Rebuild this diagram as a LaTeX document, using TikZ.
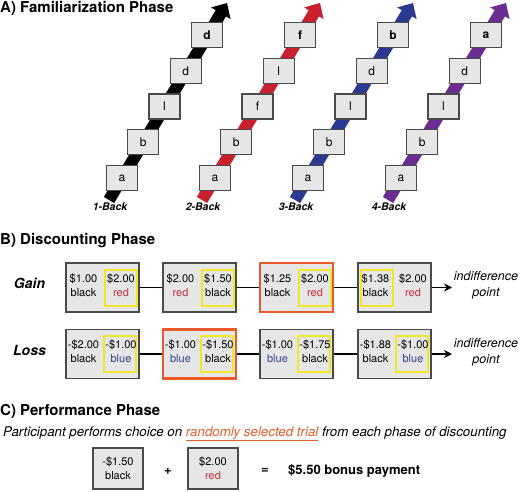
\documentclass[tikz,border=0pt]{standalone}
\usepackage{fontspec}
\setmainfont{TeX Gyre Heros}
\usetikzlibrary{arrows.meta}
\definecolor{boxfill}{HTML}{E6E6E6}
\definecolor{boxline}{HTML}{4A4A4A}
\definecolor{nred}{HTML}{C8202F}
\definecolor{nblue}{HTML}{2B3990}
\definecolor{npurple}{HTML}{6C2D91}
\definecolor{selorange}{HTML}{EA5B2B}
\definecolor{hiyellow}{HTML}{F2E52C}
\definecolor{txtred}{HTML}{C0303A}
\definecolor{txtblue}{HTML}{33408E}
\newcommand\choicebox[8]{%
  \node[choice,#3] (#1) at (#2) {};
  \node[hilite] (#1-y) at ([xshift=#8pt]#1.center) {};
  \node[ctext] (#1-l) at ([xshift=-19pt,yshift=2.5pt]#1.center) {#4\\#5};
  \node[ctext] (#1-r) at ([xshift=18.5pt,yshift=2.5pt]#1.center) {#6\\#7};
}
\begin{document}
\begin{tikzpicture}[x=1pt,y=-1pt,
  title/.style={anchor=base west,inner sep=0pt,font=\fontsize{15}{18}\selectfont\bfseries},
  letterbox/.style={draw=boxline,fill=boxfill,line width=1.2pt,minimum width=31pt,minimum height=25pt,inner sep=0pt,font=\fontsize{12}{14}\selectfont},
  band/.style={line width=12pt,-{Triangle[width=22pt,length=12pt]}},
  backlabel/.style={inner sep=0pt,font=\fontsize{10.5}{12}\selectfont\bfseries\itshape},
  rowlabel/.style={inner sep=0pt,font=\fontsize{14}{16}\selectfont\bfseries\itshape},
  choice/.style={draw=boxline,fill=boxfill,line width=1.2pt,minimum width=73pt,minimum height=49pt,inner sep=0pt},
  selected/.style={draw=selorange,line width=2.5pt},
  hilite/.style={draw=hiyellow,line width=2pt,minimum width=32pt,minimum height=36pt,inner sep=0pt},
  ctext/.style={align=center,inner sep=0pt,font=\fontsize{11}{14}\selectfont},
  conn/.style={line width=1.6pt,black},
  indiff/.style={align=center,inner sep=0pt,font=\fontsize{12.5}{16}\selectfont\itshape},
  pbox/.style={draw=boxline,fill=boxfill,line width=1.2pt,minimum width=50pt,minimum height=41pt,inner sep=0pt,align=center,font=\fontsize{11}{14}\selectfont}
]
\useasboundingbox (0,0) rectangle (520,492);

% ---------------- A) Familiarization Phase
\node[title] (tA) at (0,12.5) {A) Familiarization Phase};
\foreach \c/\bx/\col/\la/\lb/\lc/\ld/\le in
  {1/122/black/a/b/l/d/d, 2/215/nred/a/b/f/l/f, 3/308/nblue/a/b/l/d/b, 4/401/npurple/a/b/l/d/a}{
  \coordinate (A\c-s) at (\bx-13,200);
  \coordinate (A\c-e) at (\bx+105,3);
  \draw[band,\col] (A\c-s) -- (A\c-e);
  \node[letterbox] (A\c-0) at (\bx,178) {\la};
  \node[letterbox] (A\c-1) at (\bx+21.25,142.25) {\lb};
  \node[letterbox] (A\c-2) at (\bx+42.5,106.5) {\lc};
  \node[letterbox] (A\c-3) at (\bx+63.75,70.75) {\ld};
  \node[letterbox,font=\fontsize{12}{14}\selectfont\bfseries] (A\c-4) at (\bx+85,35) {\le};
  \node[backlabel] (L\c) at (\bx-12,207) {\c-Back};
}

% ---------------- B) Discounting Phase
\node[title] (tB) at (0,244.5) {B) Discounting Phase};
\node[rowlabel] (gain) at (29.5,283) {Gain};
\node[rowlabel] (loss) at (29.5,350) {Loss};

\choicebox{g1}{102.5,287.5}{}{\$1.00}{black}{\$2.00}{{\color{txtred}red}}{18.5}
\choicebox{g2}{199.5,287.5}{}{\$2.00}{{\color{txtred}red}}{\$1.50}{black}{18.5}
\choicebox{g3}{296.5,287.5}{selected}{\$1.25}{black}{\$2.00}{{\color{txtred}red}}{18.5}
\choicebox{g4}{394.5,287.5}{}{\$1.38}{black}{\$2.00}{{\color{txtred}red}}{-18}

\choicebox{l1}{102.5,354}{}{-\$2.00}{black}{-\$1.00}{{\color{txtblue}blue}}{17.5}
\choicebox{l2}{199.5,354}{selected}{-\$1.00}{{\color{txtblue}blue}}{-\$1.50}{black}{17.5}
\choicebox{l3}{296.5,354}{}{-\$1.00}{{\color{txtblue}blue}}{-\$1.75}{black}{17.5}
\choicebox{l4}{394.5,354}{}{-\$1.88}{black}{-\$1.00}{{\color{txtblue}blue}}{17.5}

\draw[conn] (g1) -- (g2);
\draw[conn] (g2) -- (g3);
\draw[conn] (g3) -- (g4);
\draw[conn] (l1) -- (l2);
\draw[conn] (l2) -- (l3);
\draw[conn] (l3) -- (l4);
\coordinate (gEnd) at (452,287.5);
\coordinate (lEnd) at (452,354);
\draw[conn,-{Stealth[length=8pt,width=8pt]}] (g4) -- (gEnd);
\draw[conn,-{Stealth[length=8pt,width=8pt]}] (l4) -- (lEnd);
\node[indiff] (gInd) at (486,285) {indifference\\point};
\node[indiff] (lInd) at (486,352.5) {indifference\\point};

% ---------------- C) Performance Phase
\node[title] (tC) at (0,415.5) {C) Performance Phase};
\node[anchor=base west,inner sep=0pt,font=\fontsize{13.3}{15}\selectfont\itshape] (sent) at (3,436)
  {Participant performs choice on {\color{selorange}\underline{randomly selected trial}} from each phase of discounting};
\node[pbox] (p1) at (118,468.5) {-\$1.50\\black};
\node[pbox] (p2) at (213,468.5) {\$2.00\\{\color{txtred}red}};
\node[inner sep=0pt,font=\fontsize{13}{15}\selectfont\bfseries] (plus) at (168,471) {+};
\node[inner sep=0pt,font=\fontsize{13}{15}\selectfont\bfseries] (eq) at (265,470.5) {=};
\node[anchor=west,inner sep=0pt,font=\fontsize{13}{15}\selectfont\bfseries] (bonus) at (288,471) {\$5.50 bonus payment};
\end{tikzpicture}
\end{document}
